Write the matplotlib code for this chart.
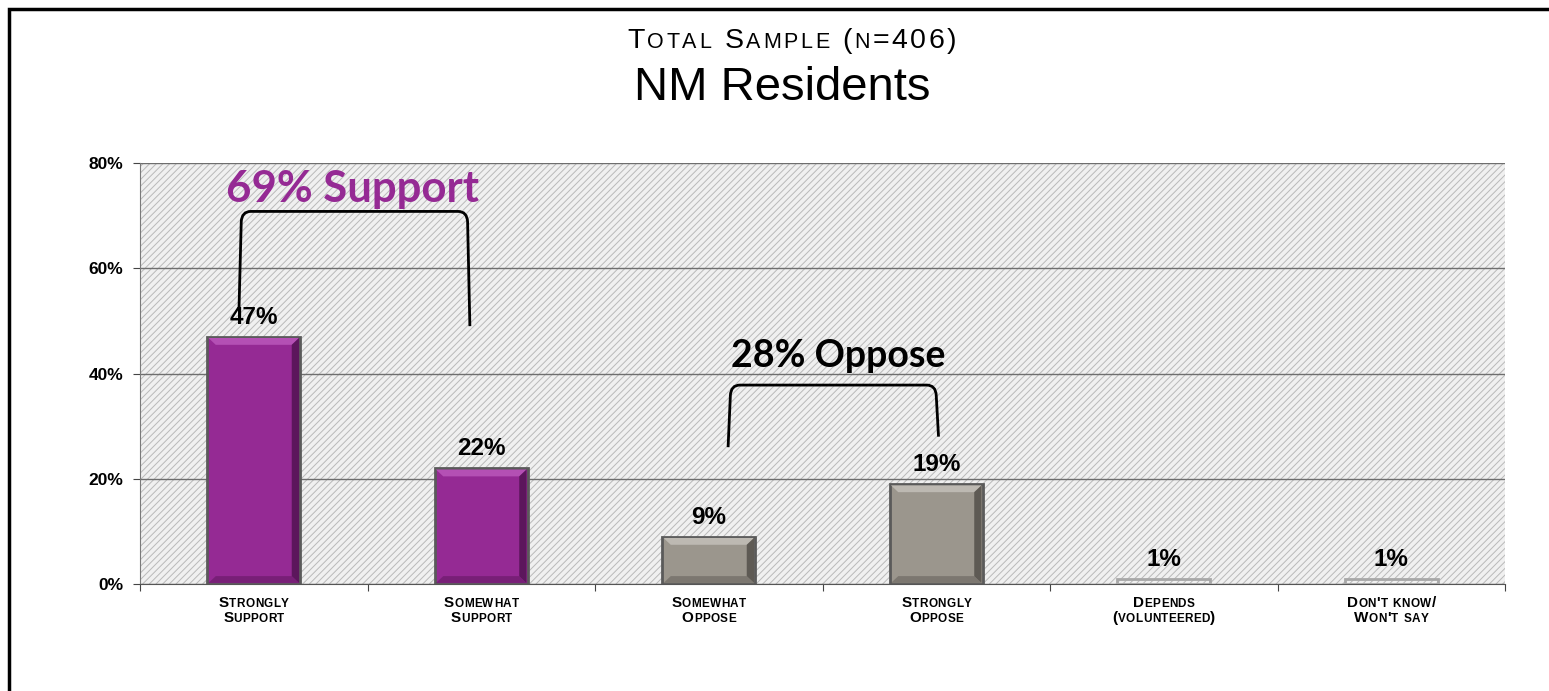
import numpy as np
import matplotlib
matplotlib.use("Agg")
import matplotlib.pyplot as plt
from matplotlib.patches import Rectangle, PathPatch, Polygon
from matplotlib.path import Path

categories = ["Strongly\nSupport", "Somewhat\nSupport", "Somewhat\nOppose",
              "Strongly\nOppose", "Depends\n(volunteered)", "Don't know/\nWon't say"]
values = [47, 22, 9, 19, 1, 1]
groups = ["support", "support", "oppose", "oppose", "other", "other"]
yticks = [0, 20, 40, 60, 80]
subtitle = "Total Sample (n=406)"
title = "NM Residents"
support_text = "69% Support"
oppose_text = "28% Oppose"

colors = {"support": "#952a94", "oppose": "#9b968d", "other": "none"}
light = {"support": "#b450b4", "oppose": "#bdb9b2"}
dark = {"support": "#5c165c", "oppose": "#5e5a54"}
edges = {"support": "#5a5a5a", "oppose": "#5a5a5a", "other": "#a8a8a8"}

plt.rcParams["font.family"] = ["Liberation Sans", "DejaVu Sans"]
plt.rcParams["hatch.linewidth"] = 0.7

W, H, DPI = 1549, 691, 100
fig = plt.figure(figsize=(W / DPI, H / DPI), dpi=DPI)
ax = fig.add_axes([140 / W, 1 - 584 / H, (1505 - 140) / W, (584 - 163) / H])

# outer frame (cut off at right and bottom like the slide)
fig.patches.append(Rectangle((9 / W, -0.05), 1.2, 1 - 9 / H + 0.05, transform=fig.transFigure,
                             fill=False, edgecolor="black", linewidth=2.5, zorder=0))

# hatched plot area
ax.set_facecolor("white")
ax.add_patch(Rectangle((0, 0), 1, 1, transform=ax.transAxes, facecolor="#f0f0f0",
                       edgecolor="#b9b9b9", linewidth=0, hatch="/////", zorder=0))

x = np.arange(len(values))
bw = 0.41
ax.bar(x, values, width=bw, color=[colors[g] for g in groups],
       edgecolor=[edges[g] for g in groups], linewidth=2, zorder=3)

# bevel look on the larger bars
dx, dy = 0.032, 1.3
for xi, v, g in zip(x, values, groups):
    if g == "other":
        continue
    l, r = xi - bw / 2 + 0.006, xi + bw / 2 - 0.006
    t, b = v - 0.25, 0.2
    ax.add_patch(Polygon([(l, t), (r, t), (r - dx, t - dy), (l + dx, t - dy)],
                         facecolor=light[g], linewidth=0, zorder=4))
    ax.add_patch(Polygon([(r, t), (r, b), (r - dx, b + dy), (r - dx, t - dy)],
                         facecolor=dark[g], linewidth=0, zorder=4))
    ax.add_patch(Polygon([(l, b), (r, b), (r - dx, b + dy), (l + dx, b + dy)],
                         facecolor=dark[g], alpha=0.5, linewidth=0, zorder=4))

for xi, v in zip(x, values):
    ax.text(xi, v + 1.5, f"{v}%", ha="center", va="bottom", fontsize=17.5,
            fontweight="bold", zorder=5)

ax.set_xlim(-0.5, len(values) - 0.5)
ax.set_ylim(0, 80)
ax.set_yticks(yticks)
ax.set_yticklabels([f"{t}%" for t in yticks], fontsize=12.5, fontweight="bold")
ax.yaxis.grid(True, color="#6e6e6e", linewidth=1, zorder=1)
ax.set_axisbelow(True)
ax.set_xticks(np.arange(len(values) + 1) - 0.5)
ax.set_xticklabels([])
ax.tick_params(axis="x", length=5, color="#444444")
ax.tick_params(axis="y", length=5, color="#444444", pad=7)
for side in ["top", "right"]:
    ax.spines[side].set_visible(False)
ax.spines["left"].set_color("#7a7a7a")
ax.spines["bottom"].set_color("#555555")

fig.canvas.draw()
renderer = fig.canvas.get_renderer()


def char_width(ch, size, weight):
    t1 = fig.text(0, 0, "|" + ch + "|", fontsize=size, fontweight=weight)
    t2 = fig.text(0, 0, "||", fontsize=size, fontweight=weight)
    w = t1.get_window_extent(renderer).width - t2.get_window_extent(renderer).width
    t1.remove()
    t2.remove()
    return w


def smallcaps(xf, yf, s, big, small, weight="normal", track=0.0):
    # fake small caps: lower case letters drawn as smaller capitals
    parts = []
    for ch in s:
        size = small if ch.islower() else big
        parts.append((ch.upper(), size, char_width(ch.upper(), size, weight) + track))
    total = sum(p[2] for p in parts) - track
    x0 = xf * W - total / 2
    for ch, size, w in parts:
        fig.text(x0 / W, yf, ch, fontsize=size, va="baseline", ha="left", fontweight=weight)
        x0 += w


smallcaps(792 / W, 1 - 48 / H, subtitle, 20.5, 15.5, track=2.6)
fig.text(782 / W, 1 - 100 / H, title, fontsize=34, ha="center", va="baseline")

# category labels
for xi, cat in zip(x, categories):
    xf = ax.transData.transform((xi, 0))[0] / W
    for k, line in enumerate(cat.split("\n")):
        smallcaps(xf, 1 - (607 + 15 * k) / H, line, 11, 8.5, weight="bold", track=0.4)


def bracket(x1, y1, x2, y2, top, r=0.04, rv=2.0):
    verts = [(x1, y1), (x1 + 0.01, top - rv), (x1 + 0.012, top), (x1 + 0.012 + r, top),
             (x2 - 0.012 - r, top), (x2 - 0.012, top), (x2 - 0.01, top - rv), (x2, y2)]
    codes = [Path.MOVETO, Path.LINETO, Path.CURVE3, Path.CURVE3,
             Path.LINETO, Path.CURVE3, Path.CURVE3, Path.LINETO]
    ax.add_patch(PathPatch(Path(verts, codes), fill=False, edgecolor="black",
                           linewidth=2, zorder=6, clip_on=False))


# support bracket over bars 0-1
bracket(x[0] - 0.065, values[0] + 5, x[1] - 0.05, values[0] + 2, sum(values[:2]) + 1.8)
ax.text((x[0] + x[1]) / 2 - 0.064, sum(values[:2]) + 6, support_text, ha="center",
        va="center", fontsize=31.5, fontweight="bold", color=colors["support"],
        family=["Lato", "DejaVu Sans"], zorder=6)

# oppose bracket over bars 2-3
bracket(x[2] + 0.085, values[3] + 7, x[3] + 0.01, values[3] + 9, sum(values[2:4]) + 9.8)
ax.text((x[2] + x[3]) / 2 + 0.07, sum(values[2:4]) + 15.3, oppose_text, ha="center",
        va="center", fontsize=27, fontweight="bold", color="black",
        family=["Lato", "DejaVu Sans"], zorder=6)

fig.savefig("out.png", dpi=DPI)
